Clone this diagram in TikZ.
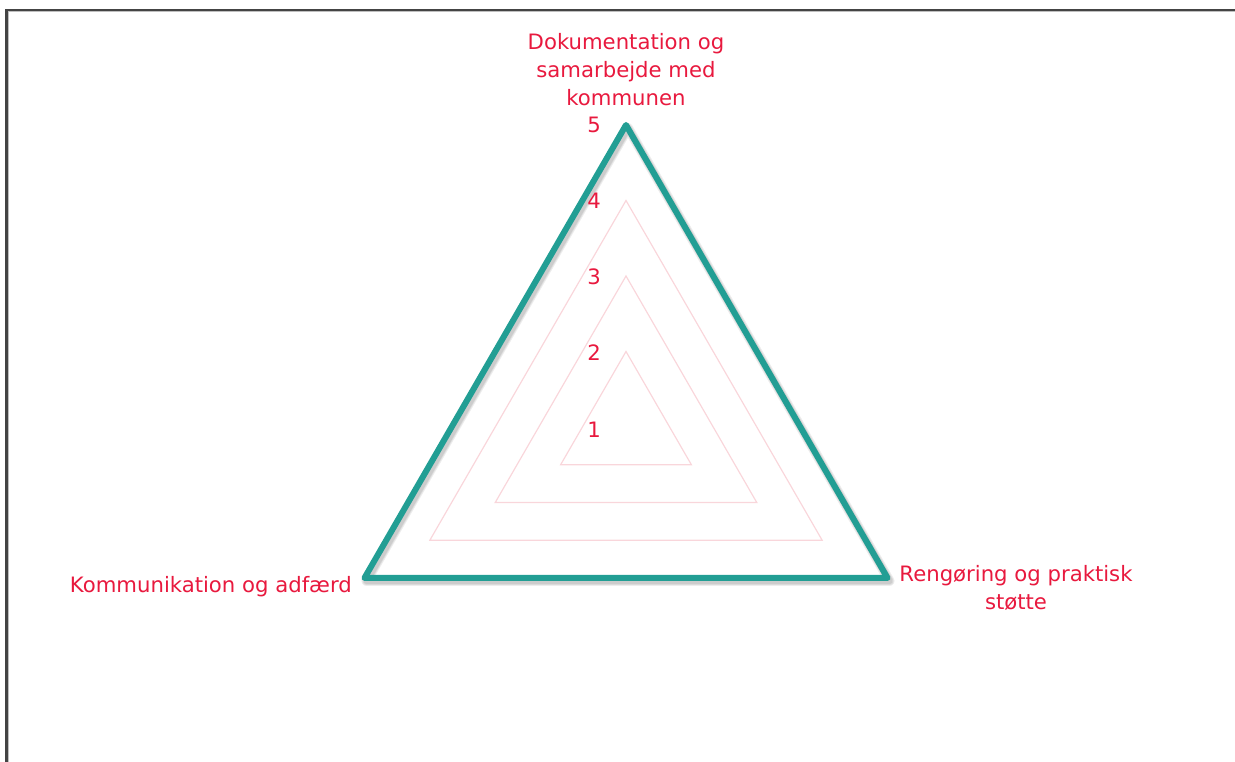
\documentclass[tikz,border=0pt]{standalone}
\usepackage{fontspec}
\setmainfont{DejaVu Sans}
\usetikzlibrary{calc}
\definecolor{axisteal}{HTML}{229E94}
\definecolor{gridpink}{HTML}{F9D6DB}
\definecolor{labelred}{HTML}{E8193E}
\definecolor{framegray}{HTML}{444444}
\tikzset{
  lbl/.style={text=labelred, font=\fontsize{21.2}{28}\selectfont, inner sep=0pt},
  tick/.style={lbl, anchor=east},
  ring/.style={draw=gridpink, line width=1.2pt, line join=miter},
  outer/.style={draw=axisteal, line width=6pt, line join=round},
  outershadow/.style={draw=black, opacity=0.07, line width=#1, line join=round},
}
\begin{document}
\begin{tikzpicture}[x=1pt,y=1pt]
  \useasboundingbox (0,0) rectangle (1235,762);
  % open frame along left and top edges
  \draw[framegray, line width=2.2pt] (6.5,0) -- (6.5,752) -- (1235,752);
  \draw[black!25, line width=0.8pt] (8.3,0) -- (8.3,750.3) -- (1235,750.3);

  \coordinate (c) at (626,335);

  % grid rings for values 2, 3 and 4
  \foreach \r in {75.5,151,226.5}{
    \draw[ring] ($(c)+(90:\r pt)$) -- ($(c)+(210:\r pt)$) -- ($(c)+(330:\r pt)$) -- cycle;
  }

  % data polygon (value 5 on all axes) with a soft shadow
  \coordinate (top) at ($(c)+(90:302pt)$);
  \coordinate (bl) at ($(c)+(210:302pt)$);
  \coordinate (br) at ($(c)+(330:302pt)$);
  \foreach \w in {10pt,8pt,6.5pt}{
    \draw[outershadow=\w] ($(top)+(2,-3)$) -- ($(bl)+(2,-3)$) -- ($(br)+(2,-3)$) -- cycle;
  }
  \draw[outer] (top) -- (bl) -- (br) -- cycle;

  % scale values
  \node[tick] (v1) at (601,332) {1};
  \node[tick] (v2) at (601,409.5) {2};
  \node[tick] (v3) at (601,485) {3};
  \node[tick] (v4) at (601,561) {4};
  \node[tick] (v5) at (601,637) {5};

  % axis titles
  \node[lbl, align=center] (tdoc) at (626,692) {Dokumentation og\\samarbejde med\\kommunen};
  \node[lbl, anchor=east] (tkom) at (352,175) {Kommunikation og adfærd};
  \node[lbl, align=center] (tren) at (1016,174) {Rengøring og praktisk\\støtte};
\end{tikzpicture}
\end{document}
